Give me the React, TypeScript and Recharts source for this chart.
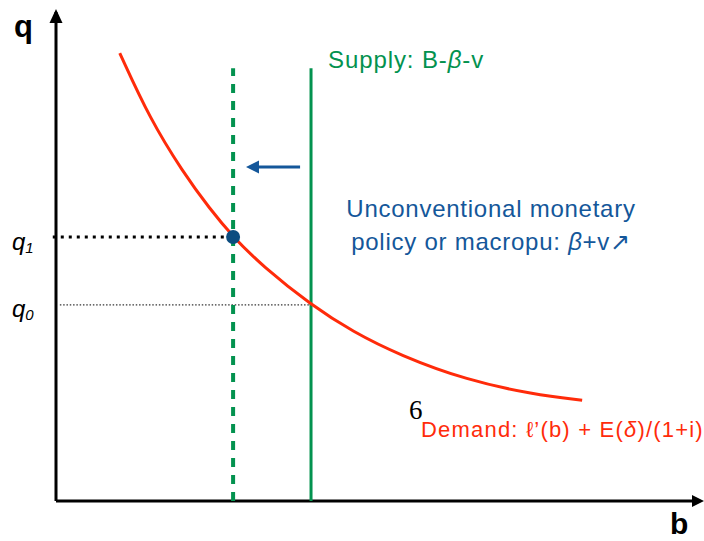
import React from "react";
import { LineChart, Line, XAxis, YAxis, ReferenceLine, ReferenceDot } from "recharts";

// demand curve (b = quantity of bonds, q = price)
const demandB = [0.99, 1.46, 1.97, 2.39, 2.75, 3.21, 3.96, 4.61, 5.34, 6.38, 7.41, 8.17];
const demandQ = [9.16, 7.81, 6.73, 5.97, 5.4, 4.8, 4.01, 3.46, 2.98, 2.47, 2.18, 2.06];

const supplyOld = 3.96; // B - beta - v
const supplyNew = 2.75; // after beta + v goes up
const supplyTop = 8.85;
const q1 = 5.4;
const q0 = 4.01;
const arrowQ = 6.83;
const arrowFrom = 3.79;
const arrowTo = 2.95;

const demand = demandB.map((b, i) => ({ b, q: demandQ[i] }));

const RED = "#ff2b0a";
const GREEN = "#03924f";
const BLUE = "#14579a";
const FONT = "'Liberation Sans', Arial, Helvetica, sans-serif";

const tri = (dir: "up" | "right" | "left", len: number, half: number) => (p: any) => {
  const { cx, cy } = p;
  let pts = "";
  if (dir === "up") pts = `${cx},${cy - 3} ${cx - half},${cy - 3 + len} ${cx + half},${cy - 3 + len}`;
  if (dir === "right") pts = `${cx + 4},${cy} ${cx + 4 - len},${cy - half} ${cx + 4 - len},${cy + half}`;
  if (dir === "left") pts = `${cx},${cy} ${cx + len},${cy - half} ${cx + len},${cy + half}`;
  return <polygon points={pts} fill={dir === "left" ? BLUE : "#000"} />;
};

export default function App() {
  return (
    <div style={{ position: "absolute", left: 0, top: 0, width: 704, height: 541, background: "#fff" }}>
      <LineChart width={704} height={541} data={demand} margin={{ top: 12, right: 4, left: 56, bottom: 40 }}>
        <XAxis dataKey="b" type="number" domain={[0, 10]} hide />
        <YAxis dataKey="q" type="number" domain={[0, 10]} hide />

        <ReferenceLine x={0} stroke="#000" strokeWidth={3} />
        <ReferenceLine y={0} stroke="#000" strokeWidth={3} />
        <ReferenceDot x={0} y={10} r={1} ifOverflow="visible" shape={tri("up", 14, 6.5)} />
        <ReferenceDot x={10} y={0} r={1} ifOverflow="visible" shape={tri("right", 12, 6)} />

        <ReferenceLine
          segment={[{ x: -0.05, y: q1 }, { x: supplyNew, y: q1 }]}
          stroke="#000"
          strokeWidth={3}
          strokeDasharray="3 5"
          ifOverflow="visible"
        />
        <ReferenceLine
          segment={[{ x: 0.06, y: q0 }, { x: supplyOld, y: q0 }]}
          stroke="#000"
          strokeWidth={1}
          strokeDasharray="1.5 1.8"
        />

        <ReferenceLine
          segment={[{ x: supplyNew, y: 0 }, { x: supplyNew, y: supplyTop }]}
          stroke={GREEN}
          strokeWidth={4}
          strokeDasharray="9 8"
        />
        <ReferenceLine
          segment={[{ x: supplyOld, y: 0 }, { x: supplyOld, y: supplyTop }]}
          stroke={GREEN}
          strokeWidth={3}
        />

        <ReferenceLine
          segment={[{ x: arrowFrom, y: arrowQ }, { x: arrowTo + 0.15, y: arrowQ }]}
          stroke={BLUE}
          strokeWidth={3}
        />
        <ReferenceDot x={arrowTo} y={arrowQ} r={1} shape={tri("left", 13, 6.5)} />

        <Line
          type="basis"
          dataKey="q"
          stroke={RED}
          strokeWidth={3}
          dot={false}
          isAnimationActive={false}
        />
        <ReferenceDot x={supplyNew} y={q1} r={7} fill="#0c4d80" stroke="none" />
      </LineChart>

      <svg width={704} height={541} style={{ position: "absolute", left: 0, top: 0, pointerEvents: "none" }}>
        <text x={14} y={37} fontFamily={FONT} fontWeight="bold" fontSize={31}>q</text>
        <text x={670} y={534} fontFamily={FONT} fontWeight="bold" fontSize={30}>b</text>
        <text x={12} y={250} fontFamily={FONT} fontStyle="italic" fontSize={24}>
          q<tspan fontSize={15} dy={3}>1</tspan>
        </text>
        <text x={12} y={317} fontFamily={FONT} fontStyle="italic" fontSize={24}>
          q<tspan fontSize={15} dy={3}>0</tspan>
        </text>
        <text x={328} y={68} fontFamily={FONT} fontSize={24} letterSpacing={0.9} fill={GREEN}>
          Supply: B-<tspan fontStyle="italic">β</tspan>-v
        </text>
        <text x={491} y={217} textAnchor="middle" fontFamily={FONT} fontSize={24} letterSpacing={0.75} fill={BLUE}>
          Unconventional monetary
        </text>
        <text x={491} y={250} textAnchor="middle" fontFamily={FONT} fontSize={24} letterSpacing={0.75} fill={BLUE}>
          policy or macropu: <tspan fontStyle="italic">β</tspan>+v↗
        </text>
        <text x={409} y={419} fontFamily="'Liberation Serif', serif" fontSize={27} fill="#000">6</text>
        <text x={421} y={437} fontFamily={FONT} fontSize={22} letterSpacing={1.2} fill={RED}>
          Demand: ℓ’(b) + E(<tspan fontStyle="italic">δ</tspan>)/(1+i)
        </text>
      </svg>
    </div>
  );
}
